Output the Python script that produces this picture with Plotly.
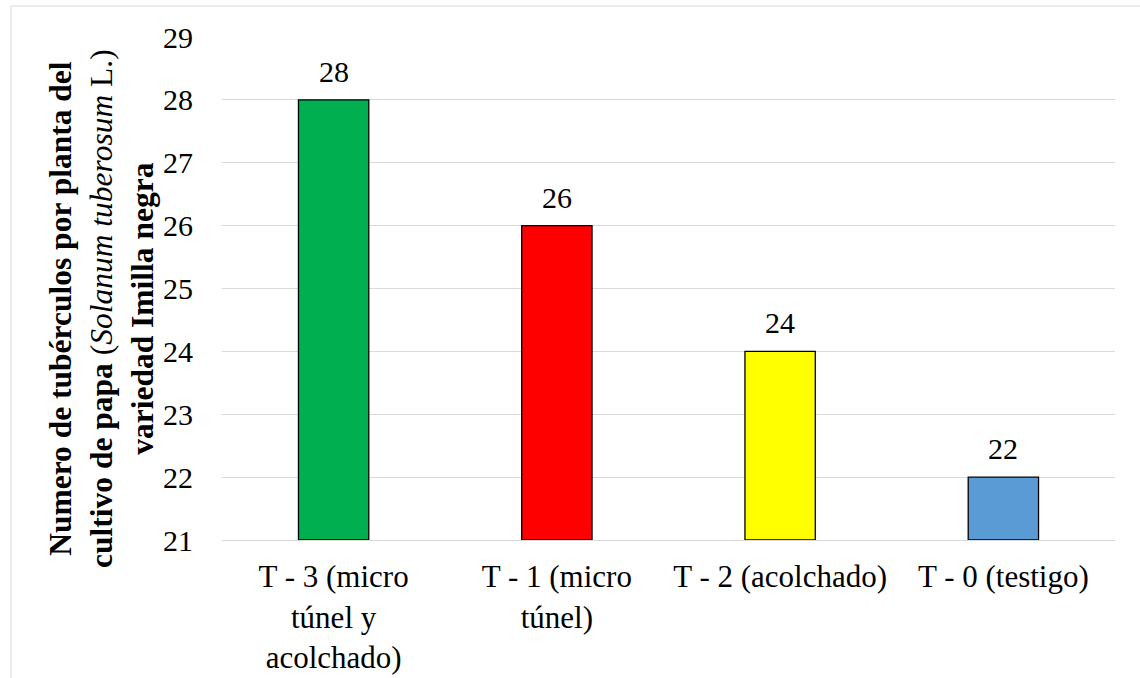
import plotly.graph_objects as go

categories = [
    "T - 3 (micro<br>túnel y<br>acolchado)",
    "T - 1 (micro<br>túnel)",
    "T - 2 (acolchado)",
    "T - 0 (testigo)",
]
values = [28, 26, 24, 22]
bar_colors = ["#00B050", "#FF0000", "#FFFF00", "#5B9BD5"]

FONT = "Liberation Serif"
FS = 31
FS_TITLE = 31.5
FS_NUM = 30
Y_MIN = 21

fig = go.Figure()
fig.add_trace(go.Bar(
    x=categories,
    y=[v - Y_MIN for v in values],
    base=Y_MIN,
    width=0.315,
    marker=dict(color=bar_colors, line=dict(color="#000000", width=1.3)),
    hoverinfo="skip",
))

for c, v in zip(categories, values):
    fig.add_annotation(
        x=c, y=v, xref="x", yref="y",
        text=str(v), showarrow=False,
        yanchor="bottom", yshift=10,
        font=dict(family=FONT, size=FS_NUM, color="#000000"),
    )

fig.add_annotation(
    xref="paper", yref="paper", x=-0.1357, y=0.461,
    xanchor="center", yanchor="middle", textangle=-90,
    text=("<b>Numero de tubérculos por planta del</b><br>"
          "<b>cultivo de papa</b> (<i>Solanum tuberosum</i> L.)<br>"
          "<b>variedad Imilla negra</b>"),
    showarrow=False,
    font=dict(family=FONT, size=FS_TITLE, color="#000000"),
)

# outer chart-area frame
fig.add_shape(
    type="rect", xref="paper", yref="paper",
    x0=-0.2363, x1=1.05, y0=-0.32, y1=1.0616,
    line=dict(color="#D9D9D9", width=1), fillcolor="rgba(0,0,0,0)",
    layer="below",
)

fig.update_layout(
    width=1140, height=678,
    margin=dict(l=222, r=25, t=37, b=138),
    paper_bgcolor="#FFFFFF", plot_bgcolor="#FFFFFF",
    showlegend=False,
)
fig.update_xaxes(
    showgrid=False, showline=True, linecolor="#D9D9D9", linewidth=1,
    ticks="", ticklabelstandoff=9, automargin=False,
    tickfont=dict(family=FONT, size=FS, color="#000000"),
)
fig.update_yaxes(
    range=[21, 29], dtick=1, tick0=21, automargin=False,
    showgrid=True, gridcolor="#D9D9D9", gridwidth=1,
    zeroline=False, showline=False, ticks="",
    ticklabelstandoff=28,
    tickfont=dict(family=FONT, size=FS_NUM, color="#000000"),
)

fig.write_html("out.html")
